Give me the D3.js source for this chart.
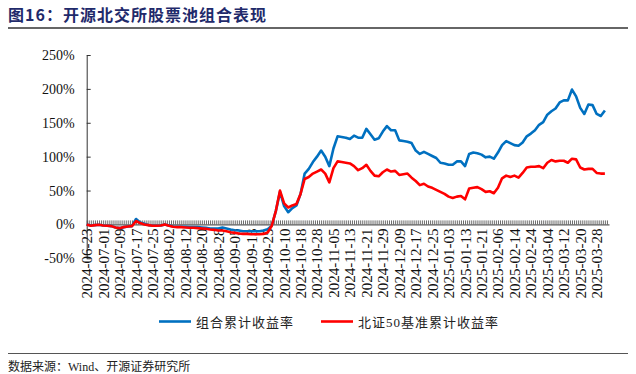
<!DOCTYPE html>
<html><head><meta charset="utf-8">
<script src="https://cdn.jsdelivr.net/npm/d3@7/dist/d3.min.js"></script>
<style>body{margin:0;background:#fff;} svg{display:block;}</style>
</head><body><svg id="c" width="636" height="374"></svg>
<script>
// ---- data ----
const tickLabels = ["2024-06-23","2024-07-01","2024-07-09","2024-07-17","2024-07-25","2024-08-02","2024-08-12","2024-08-20","2024-08-28","2024-09-05","2024-09-13","2024-09-25","2024-10-10","2024-10-18","2024-10-28","2024-11-05","2024-11-13","2024-11-21","2024-11-29","2024-12-09","2024-12-17","2024-12-25","2025-01-03","2025-01-13","2025-01-21","2025-02-06","2025-02-14","2025-02-24","2025-03-04","2025-03-12","2025-03-20","2025-03-28"];
const labelEvery = 8;      // trading days between labels
const pointCount = 254;    // trading days on the axis
const sampleStep = 2;      // values below are read every 2nd trading day
const portfolio = [0,-1.5,-1,-0.5,-1.5,-2,-2.5,-4.5,-5.5,-4,-3,-2.5,8,3,1,-1,-2,-2,-1.5,0,
  -1.5,-3,-3.5,-3.5,-3.5,-4,-4,-4,-4.5,-5,-6,-6,-6,-4.5,-6,-7.5,-8.5,-9,-10,-10,
  -10,-10,-10,-9,-7,-2,20,48,27,18,24,28,45,75,82,92,100,109,100,86,
  112,130,129,128,126,131,128,128,141,133,125,127,137,145,139,139,124,123,122,120,
  109,104,107,104,101,98,91,90,88,88,93,93,86,104,106,105,103,99,100,97,
  106,117,123,120,117,116,121,130,134,139,147,151,162,167,171,180,183,183,199,189,
  172,163,177,176,163,160,168];
const benchmark = [0,-2,-1,-0.5,-1.5,-2,-2.5,-4.5,-5.5,-4,-3,-2.5,5,2,0,-1,-2,-2,-1.5,0,
  -2,-3.5,-4,-4,-4.5,-5,-5,-5.5,-6,-6.5,-7.5,-8,-9,-9,-10,-11.5,-12.5,-13.5,-14,-14,
  -14.5,-14.5,-14.5,-14,-12,-2,20,50,31,25,28,30,45,67,70,75,78,81,75,62,
  83,93,92,91,90,86,80,83,88,79,72,71,77,81,78,79,73,74,75,69,
  64,58,60,56,54,51,48,45,41,39,41,42,37,53,54,55,52,48,49,46,
  54,68,72,70,72,69,76,84,85,85,86,83,91,95,93,94,94,91,97,96,
  84,81,82,82,76,75,75];
const yTicks = [-50,0,50,100,150,200,250];
const seriesNames = ["组合累计收益率","北证50基准累计收益率"];
const seriesColors = ["#0070C0","#FF0000"];

// ---- chart ----
const svg = d3.select("#c");
const x = d3.scaleLinear().domain([0, pointCount]).range([86.7, 609]);
const y = d3.scaleLinear().domain([-50, 250]).range([258.3, 55]);
const serifCJK = "'Liberation Serif','Noto Sans CJK SC'";

// title
svg.append("text").attr("x", 8).attr("y", 21)
  .attr("font-family", "'Noto Sans CJK SC'").attr("font-weight", 700)
  .attr("font-size", 16).attr("letter-spacing", 1).attr("fill", "#1f2a6b")
  .text("图16：开源北交所股票池组合表现");
svg.append("line").attr("x1", 8).attr("x2", 628).attr("y1", 28).attr("y2", 28)
  .attr("stroke", "#333").attr("stroke-width", 1.5);

// y axis
const yAxis = svg.append("g").attr("transform", `translate(${x(0)},0)`)
  .call(d3.axisLeft(y).tickValues(yTicks).tickFormat(d => d + "%").tickSize(-4).tickSizeOuter(0).tickPadding(12));
yAxis.selectAll("text").attr("font-family", "'Liberation Serif'").attr("font-size", 14).attr("fill", "#111");
yAxis.selectAll("line,path").attr("stroke", "#333");

// x axis at 0%
const xAxis = svg.append("g").attr("transform", `translate(0,${y(0)})`)
  .call(d3.axisBottom(x).tickValues(d3.range(pointCount))
    .tickFormat(i => i % labelEvery === 0 ? (tickLabels[i / labelEvery] || "") : "")
    .tickSize(-4).tickSizeOuter(0).tickPadding(0));
xAxis.selectAll("line").attr("stroke", "#444").attr("stroke-width", 0.8);
xAxis.select("path").attr("stroke", "#333");
xAxis.selectAll("text")
  .attr("font-family", "'Liberation Serif'").attr("font-size", 15).attr("fill", "#111")
  .attr("text-anchor", "end").attr("transform", "rotate(-90)")
  .attr("x", -4).attr("y", 0).attr("dy", "0.33em");

// lines
const line = d3.line().x((d, i) => x(i * sampleStep)).y(d => y(d));
[portfolio, benchmark].forEach((vals, s) => {
  svg.append("path").datum(vals).attr("d", line)
    .attr("fill", "none").attr("stroke", seriesColors[s]).attr("stroke-width", 2.6)
    .attr("stroke-linejoin", "round");
});

// legend
const legendX = [159, 321];
seriesNames.forEach((n, s) => {
  svg.append("line").attr("x1", legendX[s]).attr("x2", legendX[s] + 32)
    .attr("y1", 321.5).attr("y2", 321.5).attr("stroke", seriesColors[s]).attr("stroke-width", 2.6);
  svg.append("text").attr("x", legendX[s] + 37).attr("y", 326.5)
    .attr("font-family", serifCJK).attr("font-size", 13).attr("letter-spacing", 1)
    .attr("fill", "#222").text(n);
});

// footer
svg.append("line").attr("x1", 8).attr("x2", 628).attr("y1", 353.5).attr("y2", 353.5)
  .attr("stroke", "#555").attr("stroke-width", 1);
svg.append("text").attr("x", 8).attr("y", 371)
  .attr("font-family", serifCJK).attr("font-size", 12).attr("fill", "#222")
  .text("数据来源：Wind、开源证券研究所");
</script>
</body></html>
